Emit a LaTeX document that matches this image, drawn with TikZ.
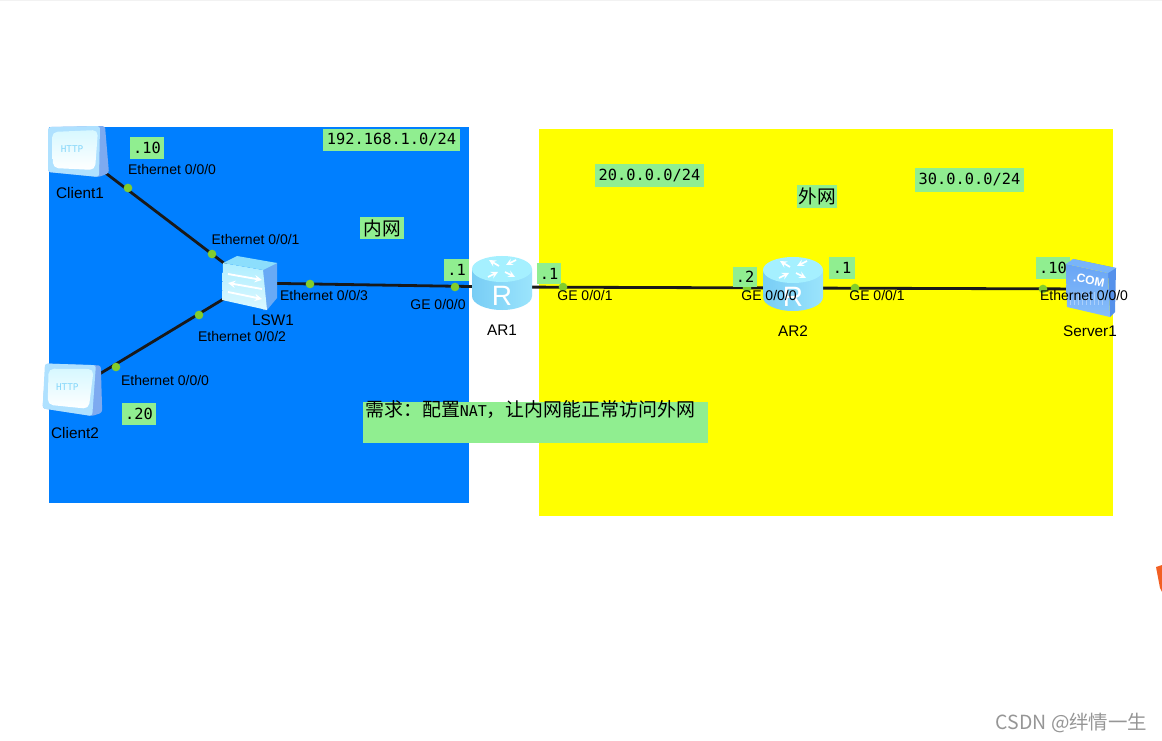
\documentclass[tikz,border=0pt]{standalone}
\usepackage{fontspec}
\setmainfont{Liberation Sans}
\setmonofont{DejaVu Sans Mono}
\newfontfamily\cjk{Noto Sans CJK SC}
\usetikzlibrary{positioning}

\definecolor{lanblue}{RGB}{0,127,255}
\definecolor{wanyellow}{RGB}{255,255,0}
\definecolor{tagsgreen}{RGB}{144,238,144}
\definecolor{portgreen}{RGB}{130,205,45}

\tikzset{
  pics/clienticon/.style={code={
    \fill[rounded corners=2pt, color={rgb,255:red,125;green,170;blue,240}] (-29,-25) -- (27,-26) -- (31,21) -- (21,25) -- (-30,20) -- cycle;
    \fill[rounded corners=2pt, color={rgb,255:red,175;green,225;blue,255}] (-30,-25) -- (22,-26) -- (21,25) -- (-30,20) -- cycle;
    \shade[rounded corners=4pt, top color={rgb,255:red,215;green,248;blue,255}, bottom color=white]
      (-26,-20) -- (20,-22) -- (17,18) -- (-25,16) -- cycle;
    \node[font=\ttfamily\fontsize{7}{7}\selectfont, text={rgb,255:red,135;green,215;blue,250}] at (-6,-3) {HTTP};
  }},
  pics/switchicon/.style={code={
    \fill[color={rgb,255:red,105;green,170;blue,245}] (12,-20) -- (27,-20) -- (27,15) -- (17,27) -- (13,27) -- cycle;
    \shade[top color={rgb,255:red,175;green,238;blue,255}, bottom color={rgb,255:red,220;green,248;blue,255}]
      (-27,-20) -- (13,-13) -- (17,27) -- (-28,17) -- cycle;
    \fill[color={rgb,255:red,140;green,222;blue,252}] (-27,-20) -- (-13,-27) -- (27,-20) -- (13,-13) -- cycle;
    \draw[white, line width=1.4pt, -stealth] (-22,-9) -- (12,-3);
    \draw[white, line width=1.4pt, stealth-] (-22,0) -- (12,6);
    \draw[white, line width=1.4pt, -stealth] (-22,9) -- (12,16);
  }},
  pics/routericon/.style={code={
    \shade[left color={rgb,255:red,120;green,205;blue,245}, right color={rgb,255:red,155;green,228;blue,252}]
      (-30,-18) -- (-30,9) arc[start angle=180, end angle=0, x radius=30, y radius=14] -- (30,-18) -- cycle;
    \fill[color={rgb,255:red,165;green,240;blue,255}] (0,-18) ellipse [x radius=30, y radius=13];
    \draw[white, line width=1.3pt, -stealth] (-3,-21) -- (-13,-27);
    \draw[white, line width=1.3pt, -stealth] (14,-27) -- (4,-22);
    \draw[white, line width=1.3pt, -stealth] (-14,-10) -- (-4,-15);
    \draw[white, line width=1.3pt, -stealth] (3,-15) -- (13,-10);
    \node[white, font=\fontsize{21}{21}\selectfont] at (0,9) {R};
  }},
  pics/servericon/.style={code={
    \fill[color={rgb,255:red,85;green,145;blue,235}] (-17,-30) -- (26,-21) -- (25,23) -- (20,28) -- (18,-16) -- cycle;
    \shade[top color={rgb,255:red,105;green,165;blue,245}, bottom color={rgb,255:red,135;green,190;blue,250}]
      (-24,-25) -- (18,-16) -- (20,28) -- (-23,18) -- cycle;
    \fill[color={rgb,255:red,120;green,180;blue,250}] (-24,-25) -- (-17,-30) -- (26,-21) -- (18,-16) -- cycle;
    \foreach \barx in {-20,-16,...,14} {
      \draw[white, opacity=0.35, line width=0.6pt] (\barx,3) -- (\barx,16);
    }
    \node[white, rotate=-11, font=\bfseries\fontsize{9}{9}\selectfont] at (-1,-9) {.COM};
  }}
}

\begin{document}
\begin{tikzpicture}[
  x=0.75pt, y=-0.75pt,
  dev/.style={minimum width=40pt, minimum height=34pt, inner sep=0pt},
  link/.style={draw=black!90, line width=2.1pt},
  port/.style={circle, fill=portgreen, minimum size=6.5pt, inner sep=0pt},
  iface/.style={font=\fontsize{10.5}{10.5}\selectfont, inner sep=0pt},
  devname/.style={font=\fontsize{11.5}{11.5}\selectfont, inner sep=0pt},
  tag/.style={fill=tagsgreen, inner sep=0pt, font=\ttfamily\fontsize{11.5}{11.5}\selectfont},
  zonetag/.style={fill=tagsgreen, inner sep=0pt, font=\cjk\fontsize{14}{14}\selectfont}
]
\useasboundingbox (0,0) rectangle (1162,741);
\fill[white] (0,0) rectangle (1162,741);
\fill[black!5] (0,0) rectangle (1162,1);

% zones
\fill[lanblue] (49,127) rectangle (469,503);
\fill[wanyellow] (539,129) rectangle (1113,516);

% devices
\node[dev] (client1) at (78,152) {};
\node[dev] (client2) at (73,390) {};
\node[dev] (lsw1) at (250,283) {};
\node[dev] (ar1) at (502,287) {};
\node[dev] (ar2) at (793,288) {};
\node[dev] (server1) at (1090,289) {};

% links
\draw[link] (client1.center) -- (lsw1.center);
\draw[link] (client2.center) -- (lsw1.center);
\draw[link] (lsw1.center) -- (ar1.center);
\draw[link] (ar1.center) -- (ar2.center);
\draw[link] (ar2.center) -- (server1.center);

\pic at (client1) {clienticon};
\pic[rotate=-3, xscale=0.98] at (client2) {clienticon};
\pic at (lsw1) {switchicon};
\pic at (ar1) {routericon};
\pic at (ar2) {routericon};

% ports
\node[port] (c1p) at (128,188) {};
\node[port] (swp1) at (212,254) {};
\node[port] (swp3) at (310,284) {};
\node[port] (swp2) at (199,315) {};
\node[port] (c2p) at (116,367) {};
\node[port] (ar1p0) at (455,287) {};
\node[port] (ar1p1) at (563,287) {};
\node[port] (ar2p0) at (747,288) {};
\node[port] (ar2p1) at (855,288) {};
\node[port] (srvp) at (1043,289) {};

% names
\node[devname] (client1name) at (80,193) {Client1};
\node[devname] (client2name) at (75,433) {Client2};
\node[devname] (lsw1name) at (273,320) {LSW1};
\node[devname, below=11pt of ar1] (ar1name) {AR1};
\node[devname, below=11pt of ar2] (ar2name) {AR2};
\node[devname] (server1name) at (1090,331) {Server1};

% addresses
\node[tag, minimum width=25.5pt, minimum height=16.5pt] (ip10) at (147,148) {.10};
\node[tag, minimum width=25.5pt, minimum height=16pt] (ip20) at (139,414) {.20};
\node[tag, minimum width=19pt, minimum height=16.5pt] (ar1ip0) at (456.5,270) {.1};
\node[tag, minimum width=18pt, minimum height=16pt] (ar1ip1) at (549,273.5) {.1};
\node[tag, minimum width=18pt, minimum height=15pt] (ar2ip0) at (745,277) {.2};
\node[tag, minimum width=19pt, minimum height=16.5pt] (ar2ip1) at (842,268) {.1};
\node[tag, minimum width=25pt, minimum height=16.5pt] (srvip) at (1053,268) {.10};
\node[tag, minimum width=103pt, minimum height=16.5pt] (lannet) at (391.5,140) {192.168.1.0/24};
\node[tag, minimum width=82pt, minimum height=17pt] (net20) at (649.5,175.5) {20.0.0.0/24};
\node[tag, minimum width=82pt, minimum height=18pt] (net30) at (969.5,180) {30.0.0.0/24};

\pic at (server1) {servericon};

% interfaces
\node[iface] (c1if) at (172,169) {Ethernet 0/0/0};
\node[iface] (swif1) at (255.5,239) {Ethernet 0/0/1};
\node[iface] (swif3) at (324,295) {Ethernet 0/0/3};
\node[iface] (swif2) at (242,336) {Ethernet 0/0/2};
\node[iface] (c2if) at (165,380) {Ethernet 0/0/0};
\node[iface] (ar1if0) at (438,304) {GE 0/0/0};
\node[iface] (ar1if1) at (585,295) {GE 0/0/1};
\node[iface] (ar2if0) at (769,295) {GE 0/0/0};
\node[iface] (ar2if1) at (877,295) {GE 0/0/1};
\node[iface] (srvif) at (1084,295) {Ethernet 0/0/0};

\node[zonetag, minimum width=33pt, minimum height=16.5pt] (lanzone) at (382,228) {内网};
\node[zonetag, minimum width=30pt, minimum height=17pt] (wanzone) at (817,196.5) {外网};

\node[fill=tagsgreen, anchor=north west, inner sep=0pt, text width=258.75pt, text height=11pt, text depth=19.75pt,
      font=\cjk\fontsize{14.2}{14}\selectfont] (need) at (363,402)
  {\hspace{1.5pt}需求：配置{\ttfamily\fontsize{11.2}{14}\selectfont NAT}，让内网能正常访问外网};

\fill[color={rgb,255:red,242;green,95;blue,35}] (1156,567) -- (1162,565) -- (1162,592) -- (1160,588) -- cycle;

\node[text={rgb,255:red,150;green,150;blue,150}, font=\cjk\fontsize{14.6}{15}\selectfont, inner sep=0pt] (mark) at (1071.5,723) {CSDN @绊情一生};
\end{tikzpicture}
\end{document}
